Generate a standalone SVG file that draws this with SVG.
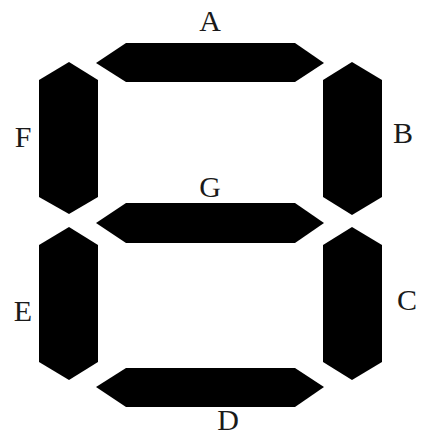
<svg xmlns="http://www.w3.org/2000/svg" width="421" height="436" viewBox="0 0 421 436">
<style>
.seg{fill:#000;stroke:none}
.lbl{font-family:"Liberation Serif","DejaVu Serif",serif;font-size:30px;fill:#1a1a1a;text-anchor:middle}
</style>
<rect width="421" height="436" fill="#fff"/>
<g id="A"><polygon class="seg" points="96,63 126,43 295,43 324,63 295,82 126,82"/><text class="lbl" x="210" y="31">A</text></g>
<g id="B"><polygon class="seg" points="323,80 352,62 382,80 382,197 352,215 323,197"/><text class="lbl" x="403" y="143">B</text></g>
<g id="C"><polygon class="seg" points="323,245 352,227 382,245 382,362 352,380 323,362"/><text class="lbl" x="407" y="310">C</text></g>
<g id="D"><polygon class="seg" points="96,387 126,368 295,368 324,387 295,407 126,407"/><text class="lbl" x="228" y="430" font-size="29">D</text></g>
<g id="E"><polygon class="seg" points="39,245 69,227 98,245 98,362 69,380 39,362"/><text class="lbl" x="23" y="321">E</text></g>
<g id="F"><polygon class="seg" points="39,80 69,62 98,80 98,197 69,214 39,197"/><text class="lbl" x="23" y="147">F</text></g>
<g id="G"><polygon class="seg" points="96,223 126,203 295,203 324,223 295,243 126,243"/><text class="lbl" x="210" y="197">G</text></g>
<g id="connectors"></g>
</svg>
